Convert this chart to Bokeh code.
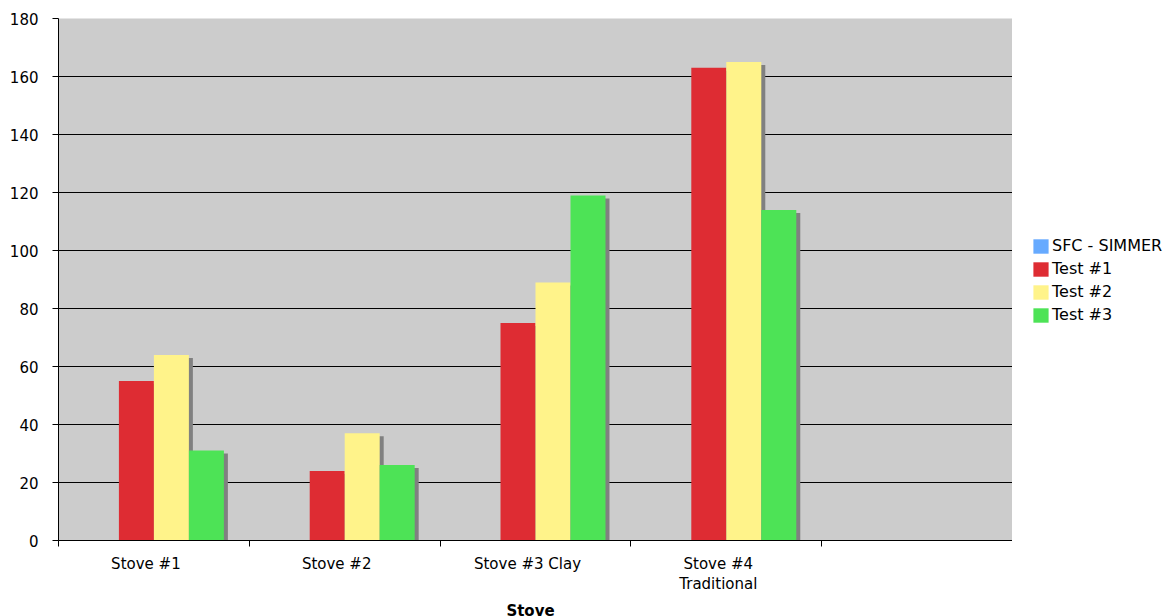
from bokeh.plotting import figure
from bokeh.models import Range1d, Legend, LegendItem, FixedTicker, Label
from bokeh.layouts import row, column
from bokeh.embed import file_html
from bokeh.resources import INLINE

# Stove categories (the fifth slot on the axis is left empty)
categories = ["Stove #1", "Stove #2", "Stove #3 Clay", "Stove #4\nTraditional"]
n_slots = 5
x_title = "Stove"

series_names = ["SFC - SIMMER", "Test #1", "Test #2", "Test #3"]
sfc_simmer = []                 # no values recorded for this series
test1 = [55, 24, 75, 163]
test2 = [64, 37, 89, 165]
test3 = [31, 26, 119, 114]
series_values = [sfc_simmer, test1, test2, test3]

colors = ["#66aaff", "#de2c33", "#fff38a", "#4de356"]
shadow_color = "#808080"

y_ticks = [0, 20, 40, 60, 80, 100, 120, 140, 160, 180]

W, H = 1164, 616
legend_w = 152
title_h = 16
main_h = H - title_h
left, top, bottom = 58, 18, 60
frame_w = W - legend_w - left
frame_h = main_h - top - bottom
px_x = frame_w / n_slots
px_y = frame_h / 180.0

FONT = "DejaVu Sans"

p = figure(width=W - legend_w, height=main_h,
           x_range=Range1d(0, n_slots), y_range=Range1d(0, 180),
           output_backend="svg", toolbar_location=None,
           min_border_left=left, min_border_right=0,
           min_border_top=top, min_border_bottom=bottom,
           background_fill_color="#cccccc", border_fill_color="white",
           outline_line_color=None)

# grid and value axis
p.xgrid.visible = False
p.ygrid.grid_line_color = "black"
p.ygrid.grid_line_width = 1

p.yaxis.ticker = y_ticks
p.yaxis.axis_line_color = "black"
p.yaxis.major_tick_line_color = "black"
p.yaxis.major_tick_in = 0
p.yaxis.major_tick_out = 6
p.yaxis.minor_tick_line_color = None
p.yaxis.major_label_standoff = 14
p.yaxis.major_label_text_font = FONT
p.yaxis.major_label_text_font_size = "15px"
p.yaxis.major_label_text_color = "black"

# category axis: names sit under each group, tick marks at group boundaries
label_shift = 8 / px_x
centers = [i + 0.5 - label_shift for i in range(len(categories))]
p.xaxis.ticker = FixedTicker(ticks=centers,
                             minor_ticks=list(range(n_slots + 1)))
p.xaxis.major_label_overrides = {c: name for c, name in zip(centers, categories)}
p.xaxis.axis_line_color = "black"
p.xaxis.major_tick_line_color = None
p.xaxis.major_tick_in = 0
p.xaxis.major_tick_out = 0
p.xaxis.minor_tick_line_color = "black"
p.xaxis.minor_tick_in = 0
p.xaxis.minor_tick_out = 6
p.xaxis.major_label_standoff = 8
p.xaxis.major_label_text_font = FONT
p.xaxis.major_label_text_font_size = "15px"
p.xaxis.major_label_text_color = "black"
p.xaxis.major_label_text_line_height = 1.15

# clustered bars: four slots per stove, with a drop shadow behind each bar
slot = 0.1834
offsets = [(-1.5 + k) * slot for k in range(4)]
shadow_dx = 4 / px_x
shadow_dy = 3 / px_y

for k, vals in enumerate(series_values):
    if not vals:
        continue
    xs = [i + 0.5 + offsets[k] + shadow_dx for i in range(len(vals))]
    tops = [v - shadow_dy for v in vals]
    p.vbar(x=xs, top=tops, bottom=0, width=slot,
           fill_color=shadow_color, line_color=None)

for k, vals in enumerate(series_values):
    xs = [i + 0.5 + offsets[k] for i in range(len(vals))]
    p.vbar(x=xs, top=vals, bottom=0, width=slot,
           fill_color=colors[k], line_color=None)

# legend panel to the right of the plot area
lg = figure(width=legend_w, height=main_h, x_range=Range1d(0, 1), y_range=Range1d(0, 1),
            output_backend="svg", toolbar_location=None,
            min_border_left=0, min_border_right=0, min_border_top=0, min_border_bottom=0,
            outline_line_color=None, background_fill_color="white",
            border_fill_color="white")
lg.axis.visible = False
lg.grid.visible = False
handles = [lg.vbar(x=[0], top=[0], bottom=0, width=0,
                   fill_color=c, line_color=None) for c in colors]

legend = Legend(items=[LegendItem(label=n, renderers=[r])
                       for n, r in zip(series_names, handles)],
                location=(19, 276), orientation="vertical",
                glyph_width=19, glyph_height=18, label_height=18,
                label_standoff=2, spacing=4, padding=0, margin=0,
                border_line_color=None, background_fill_alpha=0,
                label_text_font=FONT, label_text_font_size="16px",
                label_text_color="black")
lg.add_layout(legend)

# axis title strip under the category labels
st = figure(width=W - legend_w, height=title_h, x_range=p.x_range, y_range=Range1d(0, 1),
            output_backend="svg", toolbar_location=None,
            min_border_left=left, min_border_right=0, min_border_top=0, min_border_bottom=0,
            outline_line_color=None, background_fill_color="white",
            border_fill_color="white")
st.axis.visible = False
st.grid.visible = False
st.add_layout(Label(x=n_slots / 2, y=6, x_units="data", y_units="screen",
                    x_offset=-5, text=x_title, text_align="center",
                    text_baseline="alphabetic", text_font=FONT,
                    text_font_size="15px", text_font_style="bold",
                    text_color="black"))

open("out.html", "w").write(file_html(row(column(p, st), lg), INLINE))
